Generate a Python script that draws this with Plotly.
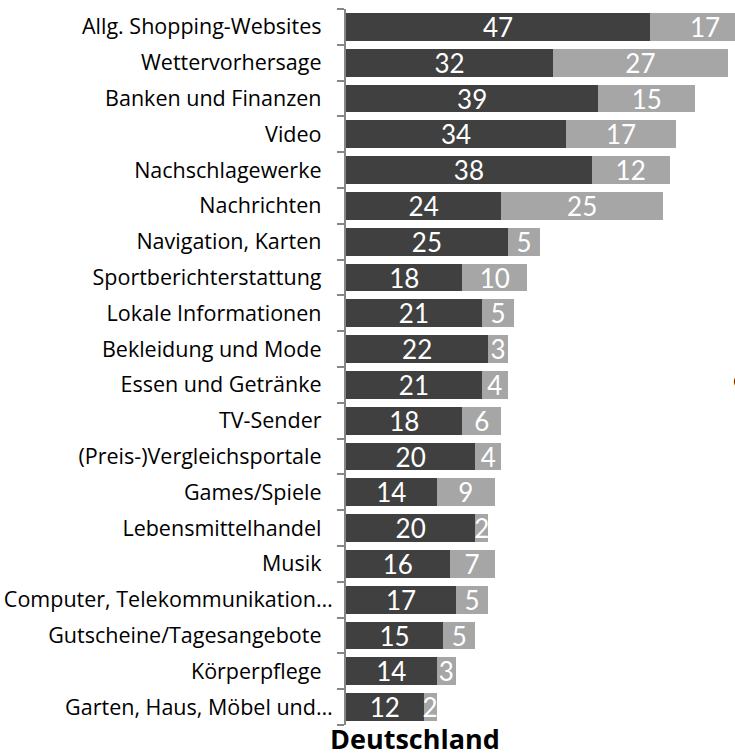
import plotly.graph_objects as go

categories = [
    "Allg. Shopping-Websites", "Wettervorhersage", "Banken und Finanzen", "Video",
    "Nachschlagewerke", "Nachrichten", "Navigation, Karten", "Sportberichterstattung",
    "Lokale Informationen", "Bekleidung und Mode", "Essen und Getränke", "TV-Sender",
    "(Preis-)Vergleichsportale", "Games/Spiele", "Lebensmittelhandel", "Musik",
    "Computer, Telekommunikation…", "Gutscheine/Tagesangebote", "Körperpflege",
    "Garten, Haus, Möbel und…",
]
dark_values = [47, 32, 39, 34, 38, 24, 25, 18, 21, 22, 21, 18, 20, 14, 20, 16, 17, 15, 14, 12]
light_values = [17, 27, 15, 17, 12, 25, 5, 10, 5, 3, 4, 6, 4, 9, 2, 7, 5, 5, 3, 2]
title_text = "Deutschland"

W, H = 735, 756
ML, MR, MT, MB = 346, 0, 9, 31
PW = W - ML - MR
PH = H - MT - MB

label_font = "'Open Sans', 'Noto Sans', sans-serif"
num_font = "Lato, 'Open Sans', sans-serif"

# truncated labels (ending with the ellipsis) sit closer to the axis in the original
tick_text = [c if c.endswith("…") else c + "\u00a0\u00a0" for c in categories]

fig = go.Figure()
for vals, color in [(dark_values, "#404040"), (light_values, "#a6a6a6")]:
    fig.add_trace(go.Bar(
        y=categories, x=vals, orientation="h",
        marker=dict(color=color, line=dict(width=0)),
        text=[str(v) for v in vals], textposition="inside",
        insidetextanchor="middle", textangle=0,
        textfont=dict(color="white", size=26, family=num_font),
        hoverinfo="skip",
    ))

fig.update_layout(
    barmode="stack", bargap=0.22,
    width=W, height=H,
    margin=dict(l=ML, r=MR, t=MT, b=MB, pad=0),
    paper_bgcolor="white", plot_bgcolor="white",
    showlegend=False,
    uniformtext=dict(minsize=26, mode="show"),
    xaxis=dict(range=[0, PW / 6.47], visible=False, fixedrange=True),
    yaxis=dict(
        type="category", autorange="reversed",
        categoryorder="array", categoryarray=categories,
        tickmode="array", tickvals=categories, ticktext=tick_text,
        showline=True, linecolor="#868686", linewidth=2,
        ticks="outside", ticklen=7, tickwidth=2, tickcolor="#868686",
        tickson="boundaries", showgrid=False, ticklabelstandoff=7,
        tickfont=dict(size=21.5, color="black", family=label_font),
    ),
    annotations=[
        dict(text="<b>" + title_text + "</b>", xref="paper", yref="paper",
             x=(415 - ML) / PW, y=-(718 - (H - MB)) / PH, xanchor="center", yanchor="top",
             showarrow=False, font=dict(size=27, color="black", family=label_font)),
        dict(text="C", xref="paper", yref="paper",
             x=(731 - ML) / PW, y=1 - (381 - MT) / PH, xanchor="left", yanchor="middle",
             showarrow=False, font=dict(size=18, color="black", family=label_font)),
    ],
)

fig.write_html("out.html")
